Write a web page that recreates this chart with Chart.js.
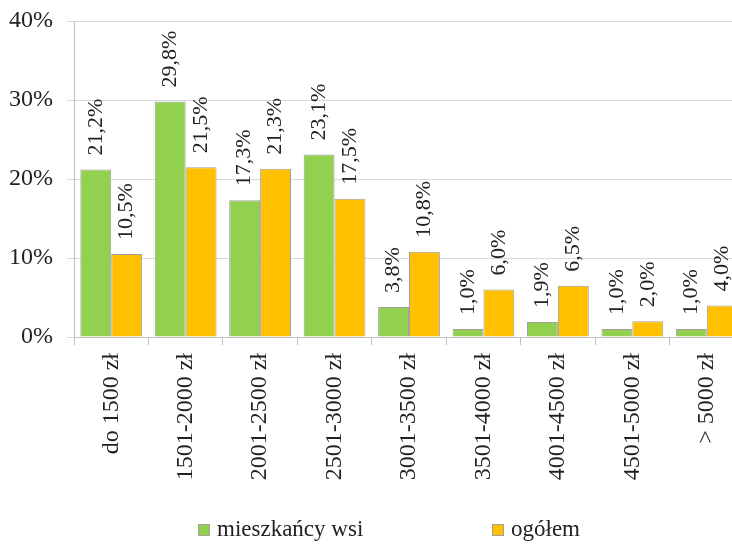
<!DOCTYPE html>
<html>
<head>
<meta charset="utf-8">
<script src="https://cdn.jsdelivr.net/npm/chart.js@4"></script>
<style>
  html, body { margin: 0; padding: 0; background: #fff; overflow: hidden; }
  #wrap { width: 744px; height: 544px; }
</style>
</head>
<body>
<div id="wrap"><canvas id="myChart"></canvas></div>
<script>
// categories and values
const categories = ['do 1500 zł', '1501-2000 zł', '2001-2500 zł', '2501-3000 zł', '3001-3500 zł',
  '3501-4000 zł', '4001-4500 zł', '4501-5000 zł', '> 5000 zł'];
const wsi = [21.2, 29.8, 17.3, 23.1, 3.8, 1.0, 1.9, 1.0, 1.0];
const ogolem = [10.5, 21.5, 21.3, 17.5, 10.8, 6.0, 6.5, 2.0, 4.0];
const yTicks = [0, 10, 20, 30, 40];

const serif = '"Liberation Serif", "Times New Roman", serif';

// value labels, rotated, above every bar
const barLabels = {
  id: 'barLabels',
  afterDatasetsDraw(chart) {
    const ctx = chart.ctx;
    ctx.save();
    ctx.font = '22px ' + serif;
    ctx.fillStyle = '#222';
    ctx.textAlign = 'left';
    ctx.textBaseline = 'middle';
    chart.data.datasets.forEach((ds, i) => {
      chart.getDatasetMeta(i).data.forEach((bar, j) => {
        const txt = ds.data[j].toFixed(1).replace('.', ',') + '%';
        ctx.save();
        ctx.translate(bar.x, bar.y - 14);
        ctx.rotate(-Math.PI / 2);
        ctx.fillText(txt, 0, 0);
        ctx.restore();
      });
    });
    ctx.restore();
  }
};

// legend drawn by hand so the two items can sit far apart
const wideLegend = {
  id: 'wideLegend',
  afterDraw(chart) {
    const ctx = chart.ctx;
    const pos = [198, 492];
    ctx.save();
    ctx.font = '23px ' + serif;
    ctx.textBaseline = 'middle';
    ctx.textAlign = 'left';
    chart.data.datasets.forEach((ds, i) => {
      ctx.fillStyle = ds.backgroundColor;
      ctx.fillRect(pos[i], 524, 12, 12);
      ctx.strokeStyle = '#a0a0a0';
      ctx.lineWidth = 1;
      ctx.strokeRect(pos[i] + 0.5, 524.5, 11, 11);
      ctx.fillStyle = '#222';
      ctx.fillText(ds.label, pos[i] + 19, 530);
    });
    ctx.restore();
  }
};

const ctx1 = document.getElementById('myChart').getContext('2d');
const myChart = new Chart(ctx1, {
  type: 'bar',
  data: {
    labels: categories,
    datasets: [{
      label: 'mieszkańcy wsi',
      data: wsi,
      backgroundColor: '#92D050',
      borderColor: '#a0a0a0',
      borderWidth: 1,
      categoryPercentage: 0.83,
      barPercentage: 1
    }, {
      label: 'ogółem',
      data: ogolem,
      backgroundColor: '#FFC000',
      borderColor: '#a0a0a0',
      borderWidth: 1,
      categoryPercentage: 0.83,
      barPercentage: 1
    }]
  },
  options: {
    responsive: true,
    maintainAspectRatio: false,
    animation: false,
    layout: { padding: { top: 21, left: 0, right: 0, bottom: 57 } },
    plugins: {
      tooltip: { enabled: false },
      legend: { display: false }
    },
    scales: {
      x: {
        grid: { drawOnChartArea: false, drawTicks: true, tickLength: 8, color: '#bfbfbf', offset: true },
        border: { color: '#bfbfbf' },
        ticks: {
          font: { family: serif, size: 24 },
          color: '#222',
          minRotation: 90,
          maxRotation: 90,
          padding: 8
        },
        afterFit: s => { s.height = 150; s.paddingLeft = 0; s.paddingRight = 0; }
      },
      y: {
        min: 0,
        max: 40,
        afterBuildTicks: s => { s.ticks = yTicks.map(v => ({ value: v })); },
        grid: { color: '#d9d9d9', tickLength: 7 },
        border: { color: '#bfbfbf' },
        ticks: {
          font: { family: serif, size: 24 },
          color: '#222',
          padding: 14,
          callback: v => v + '%'
        },
        afterFit: s => { s.width = 74; s.paddingTop = 0; s.paddingBottom = 0; }
      }
    }
  },
  plugins: [barLabels, wideLegend]
});
</script>
</body>
</html>
